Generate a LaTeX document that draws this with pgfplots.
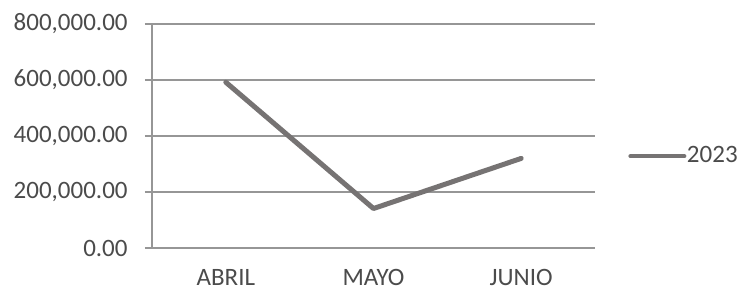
\documentclass[border=0pt]{standalone}
\usepackage{fontspec}
\setmainfont{Carlito}
\usepackage{pgfplots}
\pgfplotsset{compat=1.18}
\definecolor{txt}{RGB}{75,75,75}
\definecolor{gridc}{RGB}{150,150,150}
\definecolor{linec}{RGB}{118,115,115}
\begin{document}
\begin{tikzpicture}
\useasboundingbox (-76pt,-21.5pt) rectangle (294pt,124pt);
\begin{axis}[
  at={(0,0)}, anchor=south west,
  scale only axis, width=221.5pt, height=112pt,
  xmin=-0.5, xmax=2.5, ymin=0, ymax=800000,
  axis x line*=bottom, axis y line*=left,
  axis line style={gridc, line width=0.8pt, -},
  xtick={0,1,2}, xticklabels={ABRIL,MAYO,JUNIO},
  xtick style={draw=none},
  extra x ticks={-0.5,0.5,1.5,2.5}, extra x tick labels={},
  extra x tick style={tick style={draw=gridc, line width=0.8pt}, major tick length=2.5pt, tick align=outside, xmajorgrids=false},
  ytick={0,200000,400000,600000,800000},
  ymajorgrids, grid style={gridc, line width=0.75pt},
  ytick style={draw=gridc, line width=0.8pt},
  tick align=outside, major tick length=3.5pt,
  scaled y ticks=false,
  /pgf/number format/fixed, /pgf/number format/fixed zerofill,
  /pgf/number format/precision=2, /pgf/number format/1000 sep={,},
  /pgf/number format/assume math mode=true,
  tick label style={font=\fontsize{12.5}{14}\selectfont, text=txt, inner sep=0pt},
  yticklabel style={xshift=-8.5pt},
  xticklabel style={yshift=-7pt},
  legend style={at={(1.0745,0.41)}, anchor=west, draw=none, fill=none, inner sep=0pt,
    font=\fontsize{12.5}{14}\selectfont, text=txt,
    nodes={inner sep=0.3pt}},
  legend image code/.code={\draw[#1, line width=2pt] (0pt,0pt) -- (27pt,0pt);},
  clip=false,
]
\addplot[linec, line width=2.5pt, line join=round, line cap=round] coordinates {(0,592000) (1,141000) (2,320000)};
\addlegendentry{2023}
\end{axis}
\end{tikzpicture}
\end{document}
